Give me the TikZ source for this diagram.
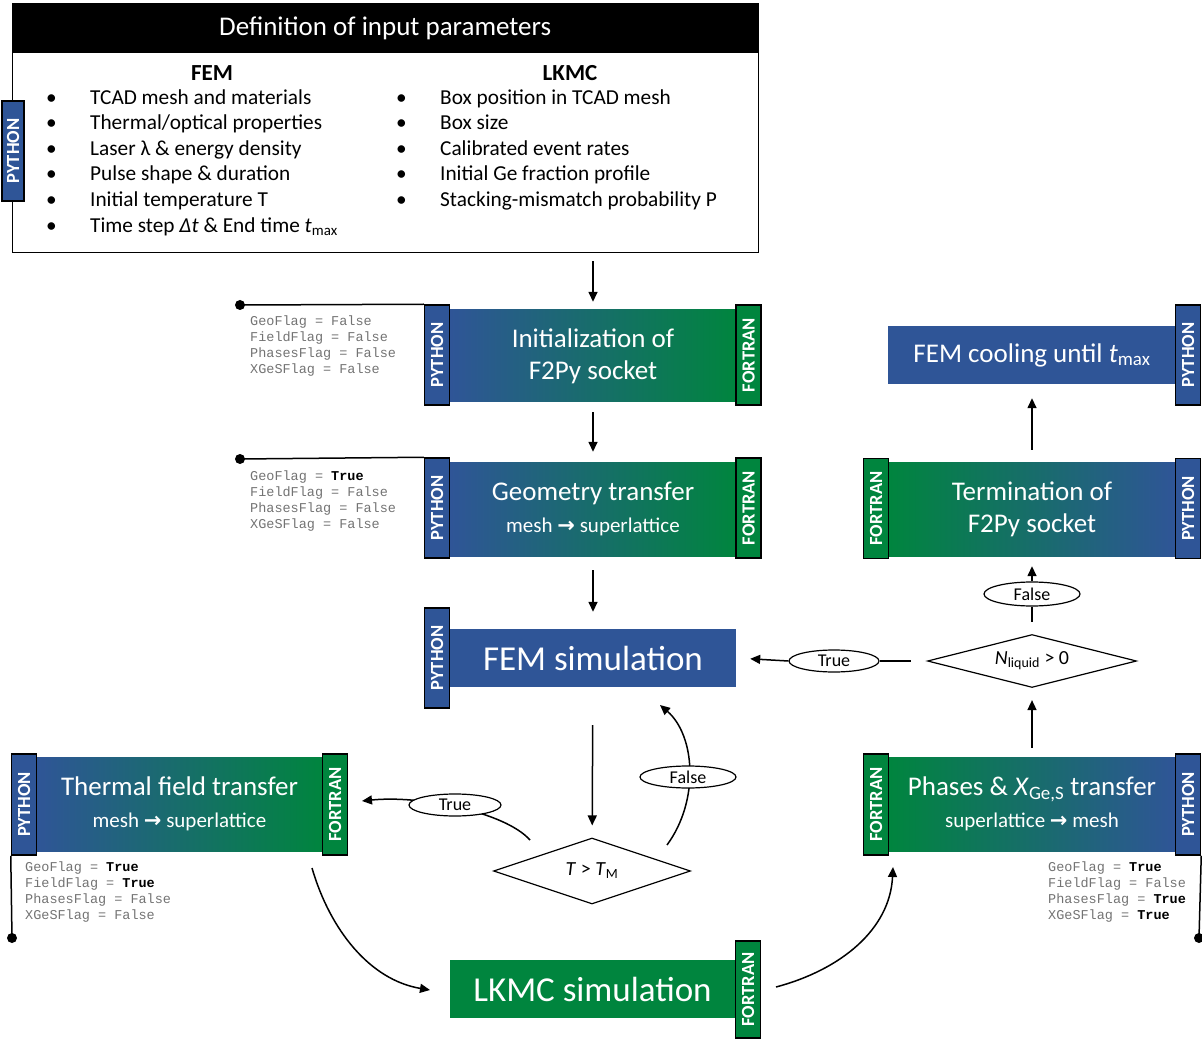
\documentclass[tikz,border=0pt]{standalone}
\usepackage{fontspec}
\setmainfont{Carlito}
\setmonofont{Liberation Mono}
\newfontfamily\arrowfont{DejaVu Sans}
\usetikzlibrary{arrows.meta,shapes.geometric,positioning}
\definecolor{pyblue}{RGB}{47,85,151}
\definecolor{fgreen}{RGB}{0,133,62}
\definecolor{flaggray}{RGB}{115,115,115}
\newcommand{\ra}{{\arrowfont\bfseries\char"2192}}
\newcommand{\tru}{\textbf{\color{black}True}}
\newcommand{\subline}[1]{{\fontsize{21}{21}\selectfont #1}}
\begin{document}
\begin{tikzpicture}[x=1pt,y=-1pt,
  box/.style={minimum width=286pt,minimum height=94pt,inner sep=0pt,text=white,align=center,font=\fontsize{27}{32}\selectfont},
  bg/.style={box,left color=pyblue,right color=fgreen},
  gb/.style={box,left color=fgreen,right color=pyblue},
  solo/.style={box,minimum height=58pt,font=\fontsize{35}{35}\selectfont},
  tag/.style={draw=black,line width=1.5pt,minimum width=25pt,minimum height=100pt,inner sep=0pt,text=white,font=\bfseries\fontsize{18.5}{18.5}\selectfont},
  py/.style={tag,fill=pyblue},
  fo/.style={tag,fill=fgreen},
  arr/.style={-{Triangle[length=10pt,width=9pt]},line width=1.5pt},
  lbl/.style={draw,ellipse,line width=1.2pt,fill=white,minimum width=92pt,minimum height=22pt,inner sep=0pt,font=\fontsize{18}{18}\selectfont},
  dec/.style={draw,diamond,line width=1.2pt,inner sep=0pt,font=\fontsize{20}{20}\selectfont},
  flag/.style={anchor=north west,align=left,inner sep=0pt,text=flaggray,font=\ttfamily\fontsize{13.5}{16}\selectfont},
  dot/.style={circle,fill=black,minimum size=10pt,inner sep=0pt}]
\useasboundingbox (0,0) rectangle (1202,1040);

% input parameters
\node[draw=black,line width=1.2pt,minimum width=746pt,minimum height=249pt,anchor=north west,inner sep=0pt] (inbox) at (12,3) {};
\node[fill=black,minimum width=746pt,minimum height=50pt,anchor=north west,text=white,font=\fontsize{27}{27}\selectfont] (inhead) at (12,3) {Definition of input parameters};
\node[font=\bfseries\fontsize{23}{23}\selectfont] (femhd) at (212,73) {FEM};
\node[font=\bfseries\fontsize{23}{23}\selectfont] (lkmchd) at (570,73) {LKMC};
\node[anchor=north west,inner sep=0pt,font=\fontsize{21.3}{25.6}\selectfont] (femlist) at (46,86) {\begin{tabular}{@{}p{44pt}@{}l@{}}
\textbullet & TCAD mesh and materials\\
\textbullet & Thermal/optical properties\\
\textbullet & Laser λ \& energy density\\
\textbullet & Pulse shape \& duration\\
\textbullet & Initial temperature T\\
\textbullet & Time step \textit{Δt} \& End time \textit{t}\textsubscript{max}
\end{tabular}};
\node[anchor=north west,inner sep=0pt,font=\fontsize{21.3}{25.6}\selectfont] (lkmclist) at (396,86) {\begin{tabular}{@{}p{44pt}@{}l@{}}
\textbullet & Box position in TCAD mesh\\
\textbullet & Box size\\
\textbullet & Calibrated event rates\\
\textbullet & Initial Ge fraction profile\\
\textbullet & Stacking-mismatch probability P
\end{tabular}};
\node[py,minimum width=22pt] (inpy) at (13,151) {\rotatebox{90}{PYTHON}};

% coupling steps
\node[bg,minimum height=92pt] (init) at (593,356) {Initialization of\\F2Py socket};
\node[py] (initpy) at (437,355) {\rotatebox{90}{PYTHON}};
\node[fo] (initfo) at (748.5,355) {\rotatebox{90}{FORTRAN}};

\node[bg] (geo) at (593,509) {Geometry transfer\\\subline{mesh \ra{} superlattice}};
\node[py] (geopy) at (437,508) {\rotatebox{90}{PYTHON}};
\node[fo] (geofo) at (748.5,508) {\rotatebox{90}{FORTRAN}};

\node[solo,fill=pyblue] (fem) at (593,658) {FEM simulation};
\node[py] (fempy) at (437,658) {\rotatebox{90}{PYTHON}};

\node[bg,minimum width=287pt] (therm) at (179.5,804) {Thermal field transfer\\\subline{mesh \ra{} superlattice}};
\node[py,minimum height=101pt] (thermpy) at (24,804.5) {\rotatebox{90}{PYTHON}};
\node[fo,minimum height=101pt] (thermfo) at (335,804.5) {\rotatebox{90}{FORTRAN}};

\node[solo,fill=fgreen] (lkmc) at (592.5,989) {LKMC simulation};
\node[fo,minimum height=97pt] (lkmcfo) at (748,989.5) {\rotatebox{90}{FORTRAN}};

\node[gb,minimum width=288pt] (phases) at (1032,804) {Phases \& \textit{X}\textsubscript{Ge,S} transfer\\\subline{superlattice \ra{} mesh}};
\node[fo,minimum height=101pt] (phasesfo) at (876,804.5) {\rotatebox{90}{FORTRAN}};
\node[py,minimum height=101pt] (phasespy) at (1188,804.5) {\rotatebox{90}{PYTHON}};

\node[gb,minimum width=288pt] (term) at (1032,509) {Termination of\\F2Py socket};
\node[fo] (termfo) at (876,508.5) {\rotatebox{90}{FORTRAN}};
\node[py] (termpy) at (1188,508.5) {\rotatebox{90}{PYTHON}};

\node[solo,fill=pyblue,minimum width=288pt,font=\fontsize{27}{27}\selectfont] (cool) at (1032,355) {FEM cooling until \textit{t}\textsubscript{max}};
\node[py] (coolpy) at (1188,355) {\rotatebox{90}{PYTHON}};

% decisions
\node[dec,aspect=3,minimum width=197pt,minimum height=66pt] (tdia) at (592,871) {\textit{T} > \textit{T}\textsubscript{M}};
\node[dec,aspect=4,minimum width=209pt,minimum height=53pt] (ndia) at (1032,661) {\textit{N}\textsubscript{liquid} > 0};

% flags
\node[dot] (initdot) at (240,305) {};
\draw[line width=1.5pt] (initdot.center) -- (initpy.north west);
\node[flag] (initflags) at (250,316) {GeoFlag = False\\FieldFlag = False\\PhasesFlag = False\\XGeSFlag = False};
\node[dot] (geodot) at (240,459) {};
\draw[line width=1.5pt] (geodot.center) -- (geopy.north west);
\node[flag] (geoflags) at (250,471) {GeoFlag = \tru\\FieldFlag = False\\PhasesFlag = False\\XGeSFlag = False};
\node[dot] (thermdot) at (12,938) {};
\draw[line width=1.5pt] (thermpy.south west) -- (thermdot.center);
\node[flag] (thermflags) at (25,862) {GeoFlag = \tru\\FieldFlag = \tru\\PhasesFlag = False\\XGeSFlag = False};
\node[dot] (phasesdot) at (1199,938) {};
\draw[line width=1.5pt] (phasespy.south east) -- (phasesdot.center);
\node[flag] (phasesflags) at (1048,862) {GeoFlag = \tru\\FieldFlag = False\\PhasesFlag = \tru\\XGeSFlag = \tru};

% straight connectors
\draw[arr,shorten <=8pt,shorten >=8pt] (inbox.south -| init) -- (init.north);
\draw[arr,shorten <=10pt,shorten >=10pt] (init) -- (geo);
\draw[arr,shorten <=14pt,shorten >=17pt] (geo) -- (fem);
\draw[arr,shorten <=38pt,shorten >=12pt] (fem) -- (tdia);
\draw[arr,shorten <=9pt,shorten >=12pt] (phases) -- (ndia);
\draw[arr,shorten <=12pt,shorten >=14pt] (term) -- (cool);

% curved connectors
\coordinate (thout) at (312,868);
\coordinate (lkmcin) at (430,990);
\coordinate (lkmcout) at (776,987);
\coordinate (phasesin) at (893,867);
\coordinate (tfout) at (667,845);
\coordinate (femin) at (660,705);
\coordinate (ttout) at (530,840);
\coordinate (thermin) at (362,801);
\draw[arr] (thout) .. controls (330,930) and (370,980) .. (lkmcin);
\draw[arr] (lkmcout) .. controls (840,970) and (890,930) .. (phasesin);
\draw[arr] (tfout) .. controls (700,800) and (695,735) .. (femin);
\draw[arr] (ttout) .. controls (505,812) and (420,795) .. (thermin);

% branch labels
\node[lbl,minimum width=96pt] (tfalse) at (688,777) {False};
\node[lbl] (ttrue) at (455,805) {True};
\node[lbl,minimum width=90pt] (ntrue) at (834,661) {True};
\node[lbl,minimum width=96pt,minimum height=24pt] (nfalse) at (1032,594) {False};
\draw[line width=1.5pt,shorten <=16pt] (ndia.west) -- (ntrue.east);
\draw[arr,shorten >=14pt] (ntrue.west) -- (fem.east);
\draw[line width=1.5pt,shorten <=12pt] (ndia.north) -- (nfalse.south);
\draw[arr,shorten >=10pt] (nfalse.north) -- (term.south);
\end{tikzpicture}
\end{document}
